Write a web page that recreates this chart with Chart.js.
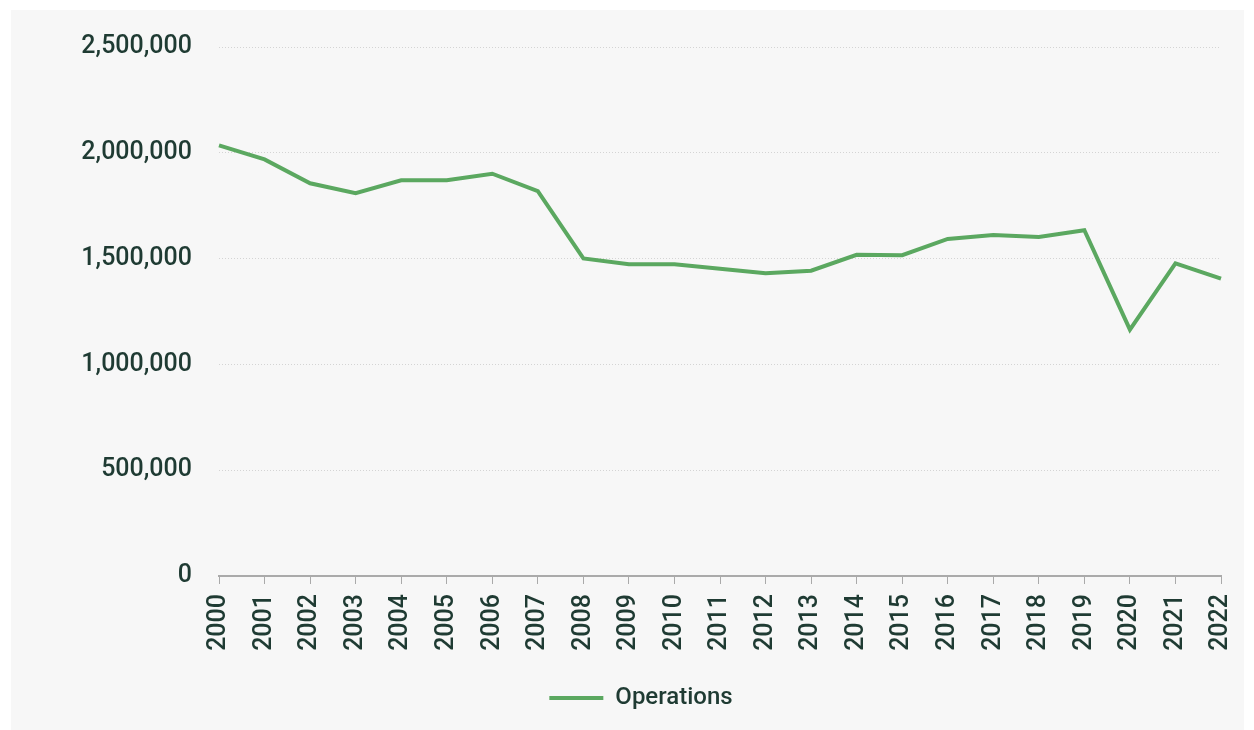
<!DOCTYPE html>
<html>
<head>
<meta charset="utf-8">
<script src="https://cdn.jsdelivr.net/npm/chart.js@4.4.1/dist/chart.umd.min.js"></script>
<style>
  html, body { margin: 0; padding: 0; background: #ffffff; }
  #wrap { position: absolute; left: 11px; top: 10px; width: 1233px; height: 720px; background: #f7f7f7; overflow: hidden; }
  canvas { display: block; position: absolute; left: 0; top: -5px; }
</style>
</head>
<body>
<div id="wrap"><canvas id="c" width="1250" height="725"></canvas></div>
<script>
const years = ['2000','2001','2002','2003','2004','2005','2006','2007','2008','2009','2010','2011','2012','2013','2014','2015','2016','2017','2018','2019','2020','2021','2022'];
const operations = [2035000, 1969000, 1856000, 1809000, 1870000, 1870000, 1901000, 1819000, 1501000, 1473000, 1473000, 1452000, 1431000, 1443000, 1518000, 1516000, 1593000, 1612000, 1602000, 1634000, 1164000, 1477000, 1405000];
const seriesName = 'Operations';

const textColor = '#1f3b33';
const fontFamily = 'Roboto, sans-serif';

new Chart(document.getElementById('c'), {
  type: 'line',
  data: {
    labels: years,
    datasets: [{
      label: seriesName,
      data: operations,
      borderColor: '#5ba860',
      backgroundColor: '#5ba860',
      borderWidth: 4,
      pointRadius: 0,
      pointHoverRadius: 0,
      tension: 0,
      fill: false
    }]
  },
  options: {
    responsive: false,
    animation: false,
    layout: { padding: { left: 49, right: 39, top: 30, bottom: 10 } },
    plugins: {
      tooltip: { enabled: false },
      legend: {
        position: 'bottom',
        labels: {
          usePointStyle: true,
          pointStyle: 'line',
          pointStyleWidth: 54,
          boxHeight: 4,
          color: textColor,
          font: { family: fontFamily, size: 24, weight: 500 },
          padding: 10
        }
      }
    },
    scales: {
      x: {
        offset: false,
        grid: { drawOnChartArea: false, drawTicks: true, tickLength: 8, color: '#aaaaaa' },
        border: { display: true, color: '#aaaaaa', width: 2 },
        ticks: {
          color: textColor,
          font: { family: fontFamily, size: 25, weight: 500 },
          maxRotation: 90, minRotation: 90,
          padding: 10,
          autoSkip: false
        },
        afterFit: s => { s.height = 100; }
      },
      y: {
        min: 0, max: 2500000,
        grid: { color: '#d4d4d4', drawTicks: false },
        border: { display: false, dash: [1, 2] },
        ticks: {
          stepSize: 500000,
          color: textColor,
          font: { family: fontFamily, size: 25, weight: 500 },
          padding: 27,
          callback: v => v.toLocaleString('en-US')
        },
        afterFit: s => { s.width = 159; }
      }
    }
  }
});
</script>
</body>
</html>
